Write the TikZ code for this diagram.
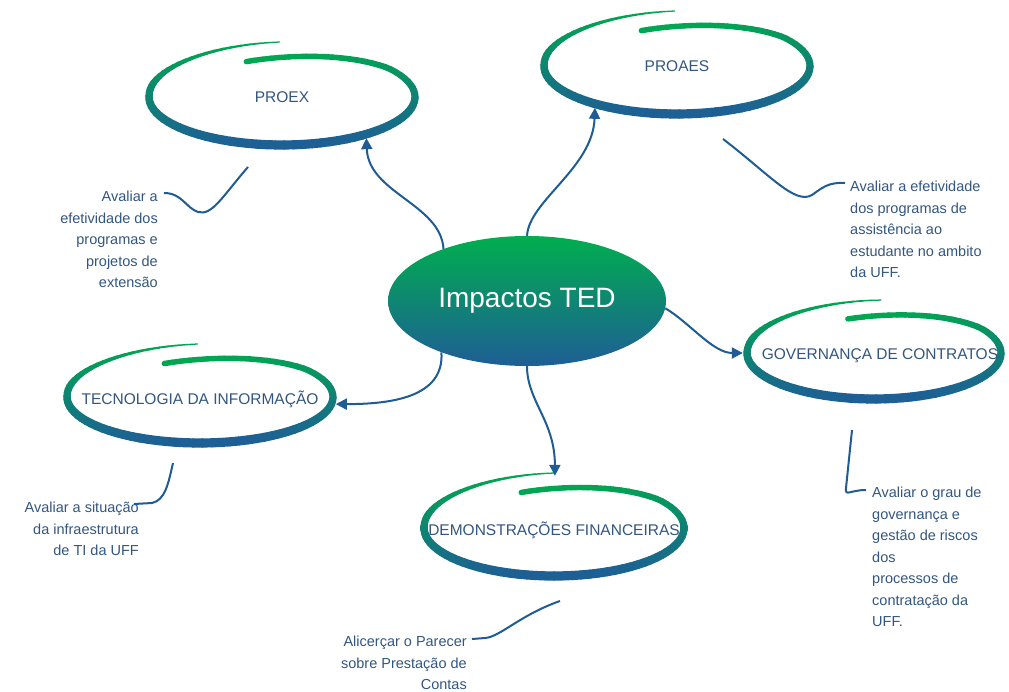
\documentclass[tikz,border=0pt]{standalone}
\usepackage{fontspec}
\setmainfont{Liberation Sans}
\usetikzlibrary{arrows.meta,shapes.geometric}
\definecolor{ringgreen}{RGB}{0,166,81}
\definecolor{ringblue}{RGB}{30,94,150}
\definecolor{impgreen}{RGB}{0,174,78}
\definecolor{txtblue}{RGB}{50,86,128}
\definecolor{linkblue}{RGB}{31,92,148}

% hand drawn ring: x, y, rx, ry, start angle
\newcommand{\swirl}[5]{%
  \foreach \t in {0,4,...,372} {
    \pgfmathsetmacro{\aa}{#5+\t}
    \pgfmathsetmacro{\ab}{#5+\t+4}
    \pgfmathsetmacro{\da}{ringoff(\t)}
    \pgfmathsetmacro{\db}{ringoff(\t+4)}
    \pgfmathtruncatemacro{\mix}{50+50*sin(\aa+2)}
    \pgfmathsetmacro{\lw}{0.8+(1-(\t>300)*(\t-300)/80)*(6.5+1.9*sin(\aa))}
    \draw[line width=\lw pt, line cap=round, ringblue!\mix!ringgreen]
      ({#1+(#3+\da)*cos(\aa)},{#2+(#4+\da)*sin(\aa)}) --
      ({#1+(#3+\db)*cos(\ab)},{#2+(#4+\db)*sin(\ab)});
  }}

\begin{document}
\begin{tikzpicture}[x=1pt,y=-1pt,
    declare function={ringoff(\s)=(\s<70)*(-11+11*\s/70)+(\s>290)*(7*(\s-290)/86);}]
  \tikzstyle{ringbox}=[ellipse,inner sep=0pt]
  \tikzstyle{ringtext}=[text=txtblue,font=\fontsize{15.5}{18}\selectfont]
  \tikzstyle{note}=[inner sep=0pt,text=txtblue,font=\fontsize{14.5}{21.5}\selectfont]
  \tikzstyle{edge}=[draw=linkblue,line width=2pt,-{Triangle[length=11pt,width=11pt]}]
  \tikzstyle{callout}=[draw=linkblue,line width=2pt]
  \useasboundingbox (0,0) rectangle (1009,692);

  % rings
  \swirl{282}{97}{133}{48}{-107}
  \swirl{677}{66}{133}{48}{-107}
  \swirl{200}{397}{133}{46}{-107}
  \swirl{554}{528}{130}{48}{-106}
  \swirl{874}{353}{127}{46}{-103}

  \node [ellipse,minimum width=278pt,minimum height=130pt,inner sep=0pt,
         top color=impgreen,bottom color=ringblue,text=white,
         font=\fontsize{28}{32}\selectfont] (imp) at (527,301) {Impactos TED};
  \node [ringbox,minimum width=274pt,minimum height=104pt,
         label={[ringtext]center:PROEX}] (proex) at (282,97) {};
  \node [ringbox,minimum width=274pt,minimum height=104pt,
         label={[ringtext]center:PROAES}] (proaes) at (677,66) {};
  \node [ringbox,minimum width=274pt,minimum height=100pt,
         label={[ringtext,yshift=-2pt]center:TECNOLOGIA DA INFORMAÇÃO}] (ti) at (200,397) {};
  \node [ringbox,minimum width=268pt,minimum height=104pt,
         label={[ringtext,yshift=-2pt]center:DEMONSTRAÇÕES FINANCEIRAS}] (df) at (554,528) {};
  \node [ringbox,minimum width=262pt,minimum height=100pt,
         label={[ringtext,xshift=6pt,yshift=-3pt]center:GOVERNANÇA DE CONTRATOS}] (gov) at (874,353) {};

  \path[edge] (imp.148) .. controls +(-3,-45) and +(2,55) .. (proex.-26);
  \path[edge] (imp.90) .. controls +(2,-35) and +(-2,60) .. (proaes.207);
  \path[edge] (imp.211) .. controls +(3,45) and +(55,0) .. (ti.-3);
  \path[edge] (imp.270) .. controls +(0,35) and +(0,-55) .. (df.89);
  \path[edge] (imp.-3) .. controls +(25,15) and +(-30,0) .. (gov.180);

  % notes
  \node [note,anchor=north east,align=right] (tproex) at (158,191)
    {Avaliar a\\efetividade dos\\programas e\\projetos de\\extensão};
  \node [note,anchor=north west,align=left] (tproaes) at (850,181)
    {Avaliar a efetividade\\dos programas de\\assistência ao\\estudante no ambito\\da UFF.};
  \node [note,anchor=north east,align=right] (tti) at (139,502)
    {Avaliar a situação\\da infraestrutura\\de TI da UFF};
  \node [note,anchor=north east,align=right] (tdf) at (467,636)
    {Alicerçar o Parecer\\sobre Prestação de\\Contas};
  \node [note,anchor=north west,align=left] (tgov) at (872,487)
    {Avaliar o grau de\\governança e\\gestão de riscos\\dos\\processos de\\contratação da\\UFF.};

  \coordinate (p1) at (248,167);
  \coordinate (p2) at (164,193);
  \coordinate (q1) at (723,139);
  \coordinate (q2) at (845,183);
  \coordinate (r1) at (173,463);
  \coordinate (r2) at (134,504);
  \coordinate (s1) at (560,601);
  \coordinate (s2) at (472,639);
  \coordinate (g1) at (852,430);
  \coordinate (g2) at (866,490);
  \path[callout] (p1) .. controls (222,197) and (212,216) .. (198,212) .. controls (186,208) and (182,193) .. (p2);
  \path[callout] (q1) .. controls (770,175) and (795,205) .. (812,195) .. controls (822,188) and (828,182) .. (q2);
  \path[callout] (r1) .. controls (168,485) and (165,500) .. (152,503) -- (r2);
  \path[callout] (s1) .. controls (520,615) and (500,637) .. (485,638) -- (s2);
  \path[callout] (g1) -- (846,488) .. controls (845,497) and (850,490) .. (g2);
\end{tikzpicture}
\end{document}
